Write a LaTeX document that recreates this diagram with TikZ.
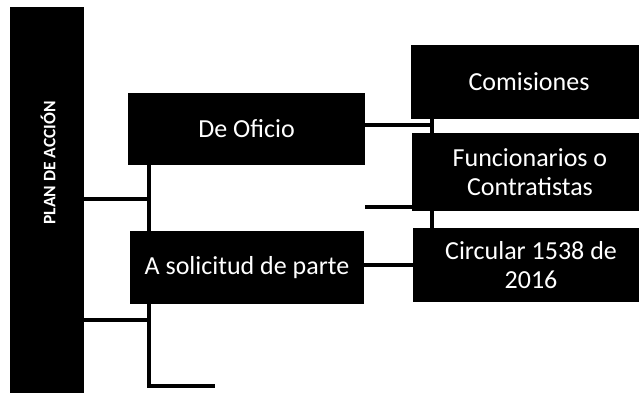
\documentclass[tikz,border=0pt]{standalone}
\usepackage{fontspec}
\setmainfont{Carlito}
\begin{document}
\begin{tikzpicture}[x=1pt,y=-1pt,
  box/.style={fill=black,text=white,inner sep=0pt,align=center,
    font=\fontsize{26}{29}\selectfont},
  conn/.style={line width=4.5pt,black}]
\useasboundingbox (0,0) rectangle (639,396);
\begin{scope}
\clip (0,0) rectangle (639,396);
% columna izquierda
\node[box,minimum width=74pt,minimum height=386pt] (plan) at (47,200) {};
\node[text=white,rotate=90,font=\fontsize{17.5}{20}\selectfont\bfseries] (plantxt) at (48,163) {PLAN DE ACCIÓN};
\node[box,minimum width=237pt,minimum height=72pt] (ofi) at (246.5,129) {De Oficio};
\node[box,minimum width=234pt,minimum height=73pt] (sol) at (247,267.5) {A solicitud de parte};
% columna derecha
\node[box,minimum width=236pt,minimum height=74pt] (com) at (529,82) {Comisiones};
\node[box,minimum width=236pt,minimum height=78pt] (fun) at (530,172) {Funcionarios o\\Contratistas};
\node[box,minimum width=236pt,minimum height=74pt] (cir) at (531,265) {Circular 1538 de\\2016};
\end{scope}
% conectores
\coordinate (j1) at (149,199);
\coordinate (j2) at (149,320);
\coordinate (j3) at (149,386);
\coordinate (e3) at (215,386);
\coordinate (j4) at (432,125);
\coordinate (j5) at (365,207);
\draw[conn] (plan.east|-j1)--(j1);
\draw[conn] (ofi.south-|j1)--(sol.north-|j1);
\draw[conn] (plan.east|-j2)--(j2);
\draw[conn] (sol.south-|j3)--(j3)--(e3);
\draw[conn] (ofi.east|-j4)--(j4);
\draw[conn] (com.south-|j4)--(fun.north-|j4);
\draw[conn] (j5)--(fun.west|-j5);
\draw[conn] (fun.south-|j4)--(cir.north-|j4);
\draw[conn] (sol.east|-cir.west)--(cir.west);
\end{tikzpicture}
\end{document}
